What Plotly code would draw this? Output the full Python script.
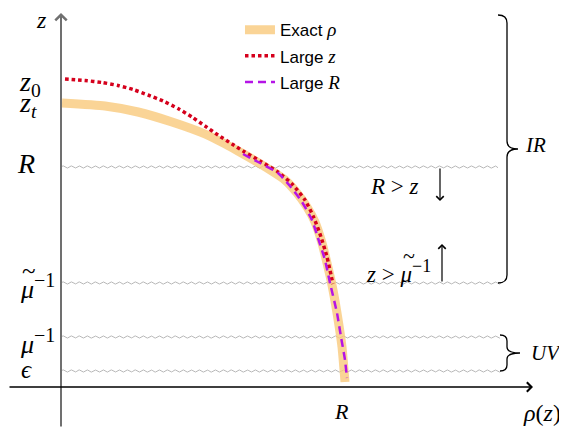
import numpy as np
import plotly.graph_objects as go

# ---- data (rho horizontal, z vertical; origin where the axes cross) ----
exact_rho = [1, 44, 77, 111, 144, 177, 206, 224, 236, 246, 254, 261, 266, 271, 276, 281, 284]
exact_z = [284, 281, 275, 265, 253, 236, 219, 207, 194, 180, 165, 144, 124, 102, 74, 40, 5]

largez_rho = [4, 24, 41, 57, 72, 87, 102, 117, 131, 144, 157, 171, 182, 199, 217, 232, 244, 253, 260, 266, 270, 272]
largez_z = [308, 306.5, 304.5, 301.5, 297.5, 292, 286, 278.5, 270, 261, 252, 243, 236, 226, 215, 202, 187, 169, 150, 130, 112, 103]

largeR_rho = [182, 199, 217, 229, 241, 251, 257, 264, 269, 276, 280, 284, 286]
largeR_z = [233, 224, 214, 201, 185, 167, 149, 127, 104, 74, 50, 27, 9]

# scale levels on the z axis: R, mu~^-1, mu^-1, epsilon
level_names = ["R", "mu_tilde_inv", "mu_inv", "eps"]
level_z = [220, 104, 50, 16]
level_end = [437, 440, 439, 439]

# ---- style ----
SERIF = "Liberation Serif"
SANS = "Liberation Sans"
ORANGE = "rgba(248,200,120,0.78)"
RED = "#D5001C"
PURPLE = "#B514E6"

fig = go.Figure()

# wavy scale lines (decoration)
for lz, le in zip(level_z, level_end):
    xs = np.linspace(1, le, 900)
    ys = lz + 1.1 * np.sin(2 * np.pi * xs / 8.0)
    fig.add_trace(go.Scatter(x=xs, y=ys, mode="lines", line=dict(color="#b8b8b8", width=1),
                             showlegend=False, hoverinfo="skip"))

SER = "<span style=\"font-family:Liberation Serif;font-size:19px\"><i>{}</i></span>"
fig.add_trace(go.Scatter(x=exact_rho, y=exact_z, mode="lines", name="Exact " + SER.format("ρ"),
                         line=dict(color=ORANGE, width=9, shape="spline", smoothing=0.5), legendgroup="a"))
fig.add_trace(go.Scatter(x=largez_rho, y=largez_z, mode="lines", name="Large " + SER.format("z"),
                         line=dict(color=RED, width=3.5, dash="3.5px,3px", shape="spline", smoothing=0.5), legendgroup="b"))
fig.add_trace(go.Scatter(x=largeR_rho, y=largeR_z, mode="lines", name="Large " + SER.format("R"),
                         line=dict(color=PURPLE, width=2.5, dash="8px,5px", shape="spline", smoothing=0.5), legendgroup="c"))

ann = []


def txt(x, y, s, size, anchor="center"):
    ann.append(dict(x=x, y=y, xref="x", yref="y", text=s, showarrow=False,
                    font=dict(family=SERIF, size=size, color="black"),
                    xanchor=anchor, yanchor="middle"))


def arrow(x0, y0, x1, y1, color="black", width=1.2, size=1.0, head=4):
    ann.append(dict(x=x1, y=y1, ax=x0, ay=y0, xref="x", yref="y", axref="x", ayref="y",
                    text="", showarrow=True, arrowhead=head, arrowsize=size,
                    arrowwidth=width, arrowcolor=color))


SUP = "<sup><span style=\"font-size:{}px\">−1</span></sup>"

# axes
arrow(0, -41, 0, 374, color="#707070", width=2, size=1.1, head=4)
arrow(-53, 0, 472, 0, color="black", width=1.3, size=1.4, head=4)

# axis labels
txt(-20, 367, "<i>z</i>", 24)
txt(-31, 304, "<i>z</i><sub>0</sub>", 28)
txt(-33, 283, "<i>z</i><sub><i>t</i></sub>", 28)
txt(-35, 224, "<i>R</i>", 28)
txt(-4, 101, "<i>μ</i>" + SUP.format(20), 26, anchor="right")
txt(-32, 117, "~", 25)
txt(-4, 46, "<i>μ</i>" + SUP.format(20), 26, anchor="right")
txt(-35, 18, "<i>ϵ</i>", 25)
txt(280, -24, "<i>R</i>", 22)
txt(481, -26, "<i>ρ</i>(<i>z</i>)", 24)

# region annotations
txt(333, 201, "<i>R</i> &gt; <i>z</i>", 23)
txt(337, 116, "<i>z</i> &gt; <i>μ</i>" + SUP.format(18), 23)
txt(348, 132, "~", 22)
arrow(379, 220, 379, 186, width=1.2, size=1.2, head=4)
arrow(381, 104, 381, 143, width=1.2, size=1.2, head=4)

txt(474, 242, "<i>IR</i>", 21)
txt(485, 34, "<i>UV</i>", 21)


def brace(xe, xv, xc, yt, yb, r):
    ym = 0.5 * (yt + yb)
    return (f"M {xe},{yt} Q {xv},{yt} {xv},{yt - r} L {xv},{ym + r} "
            f"Q {xv},{ym} {xc},{ym} Q {xv},{ym} {xv},{ym - r} "
            f"L {xv},{yb + r} Q {xv},{yb} {xe},{yb}")


shapes = [
    dict(type="path", xref="x", yref="y", path=brace(437, 446, 457, 372, 104, 8),
         line=dict(color="black", width=1.3)),
    dict(type="path", xref="x", yref="y", path=brace(439, 446, 459, 52, 16, 6),
         line=dict(color="black", width=1.3)),
]

# the page places the figure 8 px from the top-left corner
fig.update_layout(
    width=559, height=421,
    margin=dict(l=0, r=0, t=0, b=0),
    paper_bgcolor="white", plot_bgcolor="white",
    xaxis=dict(range=[-53, 506], visible=False, fixedrange=True),
    yaxis=dict(range=[-42, 379], visible=False, fixedrange=True),
    showlegend=True,
    legend=dict(x=0.415, y=0.99, xanchor="left", yanchor="top", bgcolor="rgba(0,0,0,0)",
                font=dict(family=SANS, size=17, color="black"),
                traceorder="grouped", tracegroupgap=1),
    annotations=ann, shapes=shapes,
)

fig.write_html("out.html")
